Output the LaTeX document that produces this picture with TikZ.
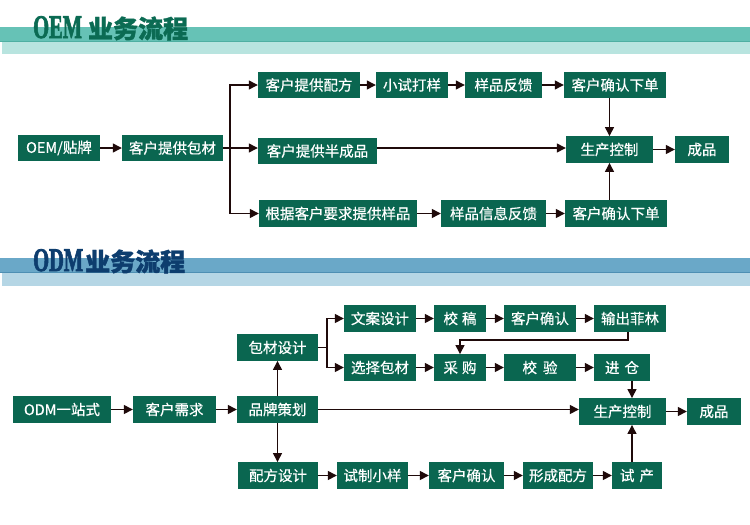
\documentclass[tikz,border=0pt]{standalone}
\usepackage{fontspec}
\usepackage{graphicx}
\usetikzlibrary{arrows.meta,calc}
\newfontfamily\cjk{Noto Sans CJK SC}[FakeBold=0.6]
\newfontfamily\cjktitle{Noto Sans CJK SC}[BoldFeatures={FakeBold=1.5}]
\newfontfamily\titleserif{Liberation Serif}[BoldFeatures={FakeBold=2.5}]
\definecolor{boxg}{HTML}{0A6650}
\definecolor{arrc}{HTML}{1F0A0A}
\definecolor{oemdark}{HTML}{66C2B6}
\definecolor{oemlight}{HTML}{B8E4DF}
\definecolor{oemline}{HTML}{4FAFA2}
\definecolor{oemtitle}{HTML}{0B6B53}
\definecolor{odmdark}{HTML}{6AA8C8}
\definecolor{odmlight}{HTML}{B5D6E5}
\definecolor{odmline}{HTML}{4E8FB3}
\definecolor{odmtitle}{HTML}{0D3D6E}
\begin{document}
\begin{tikzpicture}[x=1pt,y=-1pt,
  box/.style={fill=boxg, text=white, inner sep=0pt, minimum height=26.5pt,
    font=\cjk\fontsize{14.5}{14.5}\selectfont},
  arr/.style={-{Triangle[length=9pt,width=9pt]}, line width=1.3pt, draw=arrc},
  ln/.style={line width=1.3pt, draw=arrc},
  titlefont/.style={anchor=base west, inner sep=0pt}]
\useasboundingbox (0,0) rectangle (750,525);
\fill[white] (0,0) rectangle (750,525);
% headers
\fill[oemdark] (0,27) rectangle (750,41);
\fill[oemlight] (2,41) rectangle (750,54);
\draw[oemline, line width=1pt] (0,41) -- (750,41);
\fill[odmdark] (0,258) rectangle (750,272);
\fill[odmlight] (2,272) rectangle (750,286);
\draw[odmline, line width=1pt] (0,272) -- (750,272);
\node[titlefont, text=oemtitle] (t1) at (33,38) {\titleserif\bfseries\fontsize{33}{33}\selectfont\scalebox{0.62}[1]{OEM}\hspace{6pt}\cjktitle\bfseries\fontsize{25}{25}\selectfont 业务流程};
\node[titlefont, text=odmtitle] (t2) at (33,271) {\titleserif\bfseries\fontsize{33}{33}\selectfont\scalebox{0.62}[1]{ODM}\hspace{2pt}\cjktitle\bfseries\fontsize{25}{25}\selectfont 业务流程};
% OEM nodes
\node[box, minimum width=82pt] (a1) at (59,148) {OEM/贴牌};
\node[box, minimum width=101pt] (a2) at (172.5,148) {客户提供包材};
\node[box, minimum width=102pt] (b1) at (309,85) {客户提供配方};
\node[box, minimum width=72pt] (b2) at (412,85) {小试打样};
\node[box, minimum width=77pt] (b3) at (503.5,85) {样品反馈};
\node[box, minimum width=102pt] (b4) at (615,85) {客户确认下单};
\node[box, minimum width=119pt] (c1) at (317.5,151) {客户提供半成品};
\node[box, minimum width=87pt] (p1) at (609.5,149.5) {生产控制};
\node[box, minimum width=54pt] (f1) at (702,149.5) {成品};
\node[box, minimum width=158pt] (d1) at (338,213.5) {根据客户要求提供样品};
\node[box, minimum width=105pt] (d2) at (493.5,213.5) {样品信息反馈};
\node[box, minimum width=102pt] (d3) at (616,213.5) {客户确认下单};
% OEM connectors
\draw[arr] (a1.east) -- (a2.west);
\coordinate (br1) at (230,148);
\draw[ln] (a2.east) -- (br1);
\draw[arr] (br1) |- (b1.west);
\draw[arr] (br1) |- (d1.west);
\draw[arr] (br1) -- (br1 -| c1.west);
\draw[arr] (b1.east) -- (b2.west);
\draw[arr] (b2.east) -- (b3.west);
\draw[arr] (b3.east) -- (b4.west);
\draw[arr] (br1 -| c1.east) -- (br1 -| p1.west);
\draw[arr] (p1.east) -- (f1.west);
\draw[arr] (d1.east) -- (d2.west);
\draw[arr] (d2.east) -- (d3.west);
\draw[arr] (p1.north |- b4.south) -- (p1.north);
\draw[arr] (p1.south |- d3.north) -- (p1.south);
% ODM nodes
\node[box, minimum width=98pt] (e1) at (62,409.5) {ODM一站式};
\node[box, minimum width=83pt] (e2) at (174.5,409.5) {客户需求};
\node[box, minimum width=81pt] (e3) at (277.5,409.5) {品牌策划};
\node[box, minimum width=81pt] (g1) at (277.5,347.5) {包材设计};
\node[box, minimum width=80pt] (h1) at (278,475.5) {配方设计};
\node[box, minimum width=72pt] (g2) at (380,318.5) {文案设计};
\node[box, minimum width=52pt] (g3) at (460,318.5) {校\hspace{4pt}稿};
\node[box, minimum width=72pt] (g4) at (540,318.5) {客户确认};
\node[box, minimum width=72pt] (g5) at (630,318.5) {输出菲林};
\node[box, minimum width=72pt] (k1) at (380,367.5) {选择包材};
\node[box, minimum width=52pt] (k2) at (460,367.5) {采\hspace{4pt}购};
\node[box, minimum width=72pt] (k3) at (540,367.5) {校\hspace{6pt}验};
\node[box, minimum width=56pt] (k4) at (622,367.5) {进\hspace{5pt}仓};
\node[box, minimum width=87pt] (q1) at (622.5,411.5) {生产控制};
\node[box, minimum width=54pt] (q2) at (714,411.5) {成品};
\node[box, minimum width=71pt] (h2) at (372.5,475.5) {试制小样};
\node[box, minimum width=75pt] (h3) at (466.5,475.5) {客户确认};
\node[box, minimum width=70pt] (h4) at (558,475.5) {形成配方};
\node[box, minimum width=50pt] (h5) at (637,475.5) {试\hspace{5pt}产};
% ODM connectors
\draw[arr] (e1.east) -- (e2.west);
\draw[arr] (e2.east) -- (e3.west);
\draw[arr] (e3.north) -- (g1.south);
\draw[arr] (e3.south) -- (e3.south |- h1.north);
\draw[arr] (e3.east) -- (e3.east -| q1.west);
\coordinate (br2) at (327,347.5);
\draw[ln] (g1.east) -- (br2);
\draw[arr] (br2) |- (g2.west);
\draw[arr] (br2) |- (k1.west);
\draw[arr] (g2.east) -- (g3.west);
\draw[arr] (g3.east) -- (g4.west);
\draw[arr] (g4.east) -- (g5.west);
\draw[arr] ([xshift=-2pt]g5.south) -- ++(0,8) -| (k2.north);
\draw[arr] (k1.east) -- (k2.west);
\draw[arr] (k2.east) -- (k3.west);
\draw[arr] (k3.east) -- (k4.west);
\draw[arr] ([xshift=9.5pt]q1.north |- k4.south) -- ([xshift=9.5pt]q1.north);
\draw[arr] ([xshift=9.5pt]q1.south |- h5.north) -- ([xshift=9.5pt]q1.south);
\draw[arr] (q1.east) -- (q2.west);
\draw[arr] (h1.east) -- (h2.west);
\draw[arr] (h2.east) -- (h3.west);
\draw[arr] (h3.east) -- (h4.west);
\draw[arr] (h4.east) -- (h5.west);
\end{tikzpicture}
\end{document}
